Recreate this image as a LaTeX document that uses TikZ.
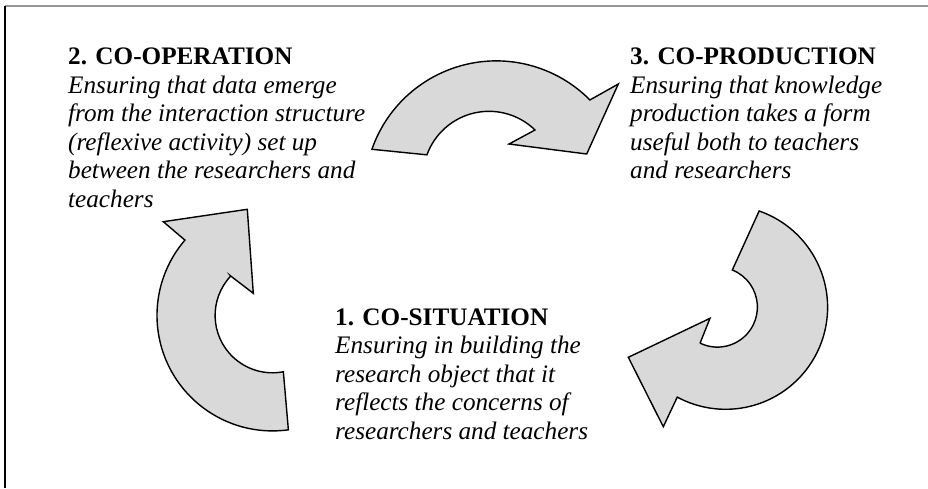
\documentclass[tikz,border=0pt]{standalone}
\usepackage{fontspec}
\setmainfont{Liberation Serif}
\usetikzlibrary{positioning}
\definecolor{arrowgray}{RGB}{217,217,217}
\definecolor{framegray}{RGB}{150,150,150}
\tikzset{
  blockarrow/.style={draw=black, fill=arrowgray, line width=1.4pt, line join=miter},
  stage/.style={align=left, inner sep=0pt, anchor=north west,
    font=\fontsize{25.2}{28.6}\selectfont}
}

\begin{document}
\begin{tikzpicture}[x=1pt, y=-1pt]
  \useasboundingbox (0,0) rectangle (928,488);

  % frame
  \draw [framegray, line width=2pt] (5,6) -- (928,6);
  \draw [line width=1.3pt] (5,6) -- (5,488);

  \node [stage] (cooperation) at (68,47.7) {\textbf{2. CO-OPERATION}\\
    \textit{Ensuring that data emerge}\\
    \textit{from the interaction structure}\\
    \textit{(reflexive activity) set up}\\
    \textit{between the researchers and}\\
    \textit{teachers}};

  \node [stage] (coproduction) at (630,47.7) {\textbf{3. CO-PRODUCTION}\\
    \textit{Ensuring that knowledge}\\
    \textit{production takes a form}\\
    \textit{useful both to teachers}\\
    \textit{and researchers}};

  \node [stage] (cosituation) at (335,308.3) {\textbf{1. CO-SITUATION}\\
    \textit{Ensuring in building the}\\
    \textit{research object that it}\\
    \textit{reflects the concerns of}\\
    \textit{researchers and teachers}};

  % the three curved arrows
  \coordinate (topc) at (496.3,192.6);
  \coordinate (topin) at (489,177.3);
  \draw [blockarrow] ([shift={(-160.8:131.7)}]topc)
    arc [start angle=-160.8, end angle=-44.7, radius=131.7]
    -- (618.3,84) -- (586.7,154) -- (509,144) -- (535,130)
    -- ([shift={(-45.8:66)}]topin)
    arc [start angle=-45.8, end angle=-160.1, radius=66] -- cycle;

  \coordinate (rightc) at (725.6,307.3);
  \coordinate (rightin) at (717.4,307.1);
  \draw [blockarrow] ([shift={(-70.8:102)}]rightc)
    arc [start angle=-70.8, end angle=118.3, radius=102]
    -- (663.3,426.7) -- (628.3,357.3) -- (710,318.3) -- (700,343.3)
    -- ([shift={(115.7:40)}]rightin)
    arc [start angle=115.7, end angle=-68.1, radius=40] -- cycle;

  \coordinate (leftc) at (272.5,315.4);
  \draw [blockarrow] ([shift={(82.1:115.5)}]leftc)
    arc [start angle=82.1, end angle=220.7, radius=115.5]
    -- (163.3,221.7) -- (247.3,209.3) -- (253.3,293.3) -- (230.7,276)
    -- ([shift={(223.3:57.4)}]leftc)
    arc [start angle=223.3, end angle=79.1, radius=57.4] -- cycle;
\end{tikzpicture}
\end{document}
